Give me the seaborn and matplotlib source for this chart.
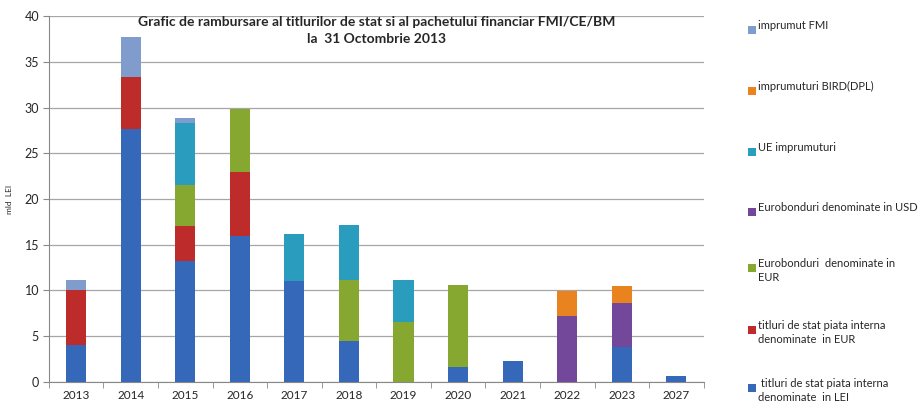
import numpy as np
import pandas as pd
import matplotlib.pyplot as plt
import seaborn as sns
from matplotlib.patches import Rectangle

# ani si serii (mld LEI)
ani = ['2013', '2014', '2015', '2016', '2017', '2018', '2019', '2020', '2021', '2022', '2023', '2027']
titluri_lei = [4.0, 27.6, 13.2, 16.0, 11.0, 4.5, 0.0, 1.6, 2.3, 0.0, 3.8, 0.7]
titluri_eur = [6.0, 5.7, 3.9, 7.0, 0.0, 0.0, 0.0, 0.0, 0.0, 0.0, 0.0, 0.0]
eurobond_eur = [0.0, 0.0, 4.4, 6.8, 0.0, 6.6, 6.6, 9.0, 0.0, 0.0, 0.0, 0.0]
eurobond_usd = [0.0, 0.0, 0.0, 0.0, 0.0, 0.0, 0.0, 0.0, 0.0, 7.2, 4.8, 0.0]
ue_imprumuturi = [0.0, 0.0, 6.8, 0.0, 5.2, 6.1, 4.5, 0.0, 0.0, 0.0, 0.0, 0.0]
bird_dpl = [0.0, 0.0, 0.0, 0.0, 0.0, 0.0, 0.0, 0.0, 0.0, 2.7, 1.9, 0.0]
imprumut_fmi = [1.2, 4.4, 0.6, 0.0, 0.0, 0.0, 0.0, 0.0, 0.0, 0.0, 0.0, 0.0]

serii = [
    (' titluri de stat piata interna\ndenominate  in LEI', titluri_lei, '#3568b8'),
    ('titluri de stat piata interna\ndenominate  in EUR', titluri_eur, '#bd2c2a'),
    ('Eurobonduri  denominate in\nEUR', eurobond_eur, '#86a830'),
    ('Eurobonduri denominate in USD', eurobond_usd, '#73479a'),
    ('UE imprumuturi', ue_imprumuturi, '#2a9cbd'),
    ('imprumuturi BIRD(DPL)', bird_dpl, '#e8831f'),
    ('imprumut FMI', imprumut_fmi, '#7f9ccc'),
]

sns.set_style('white')
plt.rcParams['font.family'] = ['Lato', 'DejaVu Sans']

fig = plt.figure(figsize=(9.21, 4.11), dpi=100)
ax = fig.add_axes([0.053, 0.0706, 0.711, 0.8904])

baza = np.zeros(len(ani))
for nume, valori, culoare in serii:
    df = pd.DataFrame({'an': ani, 'val': valori})
    sns.barplot(data=df, x='an', y='val', color=culoare, bottom=baza, width=0.37,
                ax=ax, edgecolor='none', saturation=1, zorder=3)
    baza = baza + np.array(valori)

ax.set_ylim(0, 40)
ax.set_xlim(-0.5, len(ani) - 0.5)
ax.set_yticks(range(0, 41, 5))
ax.yaxis.grid(True, color='#a6a6a6', linewidth=0.9, zorder=0)
ax.set_axisbelow(True)
for s in ['top', 'right']:
    ax.spines[s].set_visible(False)
ax.spines['left'].set_color('#888888')
ax.spines['bottom'].set_color('#888888')
ax.tick_params(axis='y', labelsize=9, length=4, color='#888888', direction='out', left=True, pad=3)
ax.tick_params(axis='x', labelsize=8.5, length=0, pad=6)
ax.set_xticks(np.arange(-0.5, len(ani)), minor=True)
ax.tick_params(axis='x', which='minor', length=4, color='#888888', direction='out', bottom=True)
ax.set_xlabel('')
ax.set_ylabel('mld  LEI', fontsize=6, labelpad=8)

ax.text(0.5, 1.0, 'Grafic de rambursare al titlurilor de stat si al pachetului financiar FMI/CE/BM\nla  31 Octombrie 2013',
        transform=ax.transAxes, ha='center', va='top', fontsize=10, fontweight='bold', linespacing=1.45)

# legenda manuala (patrat aliniat cu primul rand de text)
W, H = 921, 411
leg_y = [30, 91, 152, 212, 268, 330, 388]
for (nume, valori, culoare), y in zip(serii[::-1], leg_y):
    fig.add_artist(Rectangle((748 / W, 1 - (y + 4) / H), 8 / W, 8 / H,
                             transform=fig.transFigure, facecolor=culoare, edgecolor='none'))
    fig.text(758 / W, 1 - (y - 10) / H, nume, ha='left', va='top', fontsize=8, linespacing=1.35)

fig.savefig('out.png', dpi=100)
